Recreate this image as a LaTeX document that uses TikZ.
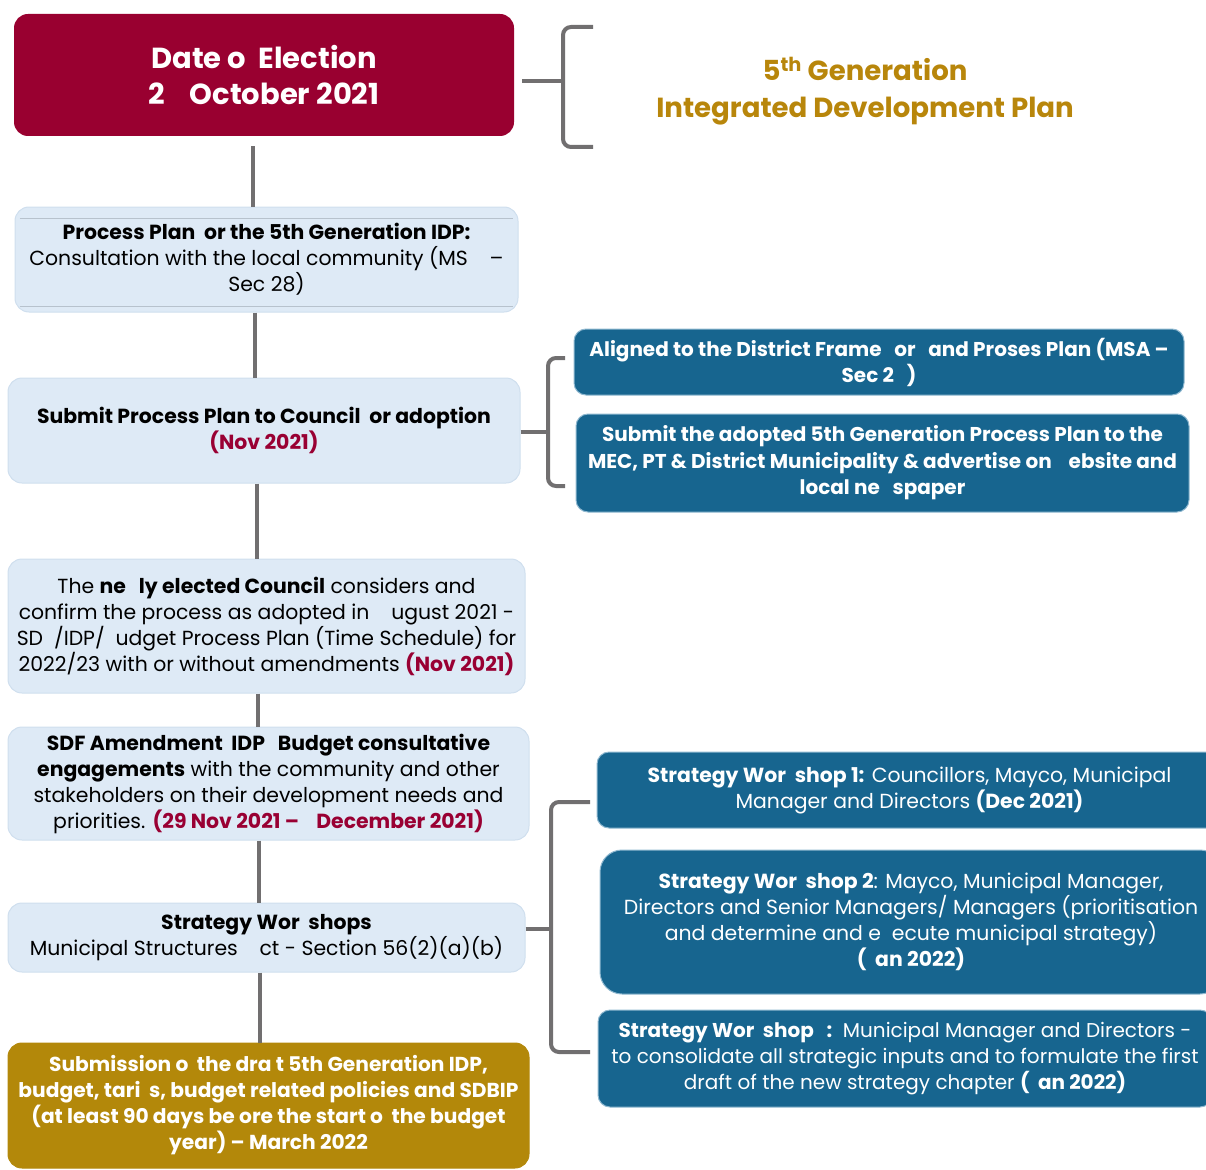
\documentclass[tikz,border=0pt]{standalone}
\usepackage{fontspec}
\setmainfont{Poppins}
\usepackage{xcolor}
\definecolor{colDate}{HTML}{990030}
\definecolor{colStep}{HTML}{DEEAF6}
\definecolor{colStepLine}{HTML}{CFDFEE}
\definecolor{colNote}{HTML}{17658F}
\definecolor{colNoteLine}{HTML}{8FB8D0}
\definecolor{colDraft}{HTML}{B3880A}
\definecolor{colTitle}{HTML}{B8860B}
\definecolor{colRedText}{HTML}{990033}
\definecolor{colConn}{HTML}{716F70}
\usetikzlibrary{positioning}
\tikzset{
	stepbox/.style={fill=colStep, draw=colStepLine, line width=1pt, rounded corners=14pt, align=center, inner sep=2pt, font=\fontsize{20.4}{26}\selectfont},
	notebox/.style={fill=colNote, draw=colNoteLine, line width=1pt, rounded corners=12pt, align=center, inner sep=2pt, text=white, font=\fontsize{20.4}{26}\selectfont},
	conn/.style={draw=colConn, line width=4pt},
	bracketline/.style={draw=colConn, line width=4pt, rounded corners=8pt},
}

\begin{document}
\begin{tikzpicture}[x=1pt, y=-1pt]
	\useasboundingbox (0,0) rectangle (1206,1169);
	\clip (0,0) rectangle (1206,1169);

	% Date of election
	\node[fill=colDate, rounded corners=14pt, minimum width=500pt, minimum height=122pt, align=center, text=white, font=\fontsize{29}{36}\selectfont\bfseries] (date) at (264,75) {Date o~~Election\\2~~~~October 2021};

	% Title
	\node[align=center, text=colTitle, font=\fontsize{27.6}{37}\selectfont\bfseries] (title) at (865,91) {5\textsuperscript{th} Generation\\Integrated Development Plan};

	% Left column
	\node[stepbox, minimum width=503pt, minimum height=105pt] (proc) at (266.5,259.5) {\textbf{Process Plan~~or the 5th Generation IDP:}\\Consultation with the local community (MS~~~~--\\Sec 28)};
	\draw[colStepLine!70!gray, line width=1pt] (proc.north west) ++(5,12) -- ++(493,0);
	\draw[colStepLine!70!gray, line width=1pt] (proc.south west) ++(5,-6) -- ++(493,0);

	\node[stepbox, minimum width=512pt, minimum height=105pt] (submit) at (264,430.5) {\textbf{Submit Process Plan to Council~~or adoption}\\\textcolor{colRedText}{\textbf{(Nov 2021)}}};

	\node[stepbox, minimum width=517pt, minimum height=134pt] (council) at (266.5,626) {The \textbf{ne~~~ly elected Council} considers and\\confirm the process as adopted in~~~~ugust 2021 -\\SD~~/IDP/~~udget Process Plan (Time Schedule) for\\2022/23 with or without amendments \textcolor{colRedText}{\textbf{(Nov 2021)}}};

	\node[stepbox, minimum width=521pt, minimum height=113pt] (sdf) at (268.5,783.5) {\textbf{SDF Amendment~~IDP~~~Budget consultative}\\\textbf{engagements} with the community and other\\stakeholders on their development needs and\\priorities. \textcolor{colRedText}{\textbf{(29 Nov 2021 --~~~~December 2021)}}};

	\node[stepbox, minimum width=517pt, minimum height=69pt] (ws) at (266.5,937.5) {\textbf{Strategy Wor~~shops}\\Municipal Structures~~~~ct - Section 56(2)(a)(b)};

	\node[stepbox, fill=colDraft, draw=colDraft, text=white, minimum width=521pt, minimum height=125pt, font=\fontsize{20.2}{26}\selectfont\bfseries] (draft) at (268.5,1105.5) {Submission o~~the dra~t 5th Generation IDP,\\budget, tari~~s, budget related policies and SDBIP\\(at least 90 days be~ore the start o~~the budget\\year) -- March 2022};

	% Right column
	\node[notebox, minimum width=610pt, minimum height=66pt, font=\fontsize{20}{26}\selectfont\bfseries] (aligned) at (879,362) {Aligned to the District Frame~~~or~~~and Proses Plan (MSA --\\Sec 2~~~)};
	\node[notebox, minimum width=613pt, minimum height=98pt, font=\fontsize{20}{26.5}\selectfont\bfseries] (adopted) at (882.5,463) {Submit the adopted 5th Generation Process Plan to the\\MEC, PT \& District Municipality \& advertise on~~~~ebsite and\\local ne~~~spaper};

	\node[notebox, minimum width=625pt, minimum height=76pt] (ws1) at (909.5,790) {\textbf{Strategy Wor~~shop 1:} Councillors, Mayco, Municipal\\Manager and Directors \textbf{(Dec 2021)}};
	\node[notebox, rounded corners=22pt, minimum width=622pt, minimum height=144pt] (ws2) at (911,922) {\textbf{Strategy Wor~~shop 2}: Mayco, Municipal Manager,\\Directors and Senior Managers/ Managers (prioritisation\\and determine and e~~ecute municipal strategy)\\\textbf{(~~an 2022)}};
	\node[notebox, minimum width=614pt, minimum height=97pt, font=\fontsize{20}{26}\selectfont] (ws3) at (905,1058.5) {\textbf{Strategy Wor~~shop~~~:}~~Municipal Manager and Directors -\\to consolidate all strategic inputs and to formulate the first\\draft of the new strategy chapter \textbf{(~~an 2022)}};

	% Spine
	\draw[conn] ([xshift=-11pt, yshift=-10pt]date.south) -- ([xshift=-11pt]date.south |- proc.north);
	\draw[conn] ([xshift=-11.5pt]proc.south) -- ([xshift=-11.5pt]proc.south |- submit.north);
	\draw[conn] ([xshift=-7pt]submit.south) -- ([xshift=-7pt]submit.south |- council.north);
	\draw[conn] ([xshift=-8.5pt]council.south) -- ([xshift=-8.5pt]council.south |- sdf.north);
	\draw[conn] ([xshift=-9.5pt]sdf.south) -- ([xshift=-9.5pt]sdf.south |- ws.north);
	\draw[conn] ([xshift=-6.5pt]ws.south) -- ([xshift=-6.5pt]ws.south |- draft.north);

	% Brackets
	\coordinate (brTitle) at (563,81);
	\draw[conn] ([xshift=8pt]date.east |- brTitle) -- (brTitle);
	\draw[bracketline] (593,27) -- (563,27) -- (563,147) -- (593,147);

	\coordinate (brSubmit) at (548,432);
	\draw[conn] (submit.east |- brSubmit) -- (brSubmit);
	\draw[bracketline] (565,358) -- (548,358) -- (548,486) -- (565,486);

	\coordinate (brWs) at (551,929);
	\draw[conn] (ws.east |- brWs) -- (brWs);
	\draw[bracketline] (590,802) -- (551,802) -- (551,1052) -- (590,1052);
\end{tikzpicture}
\end{document}
